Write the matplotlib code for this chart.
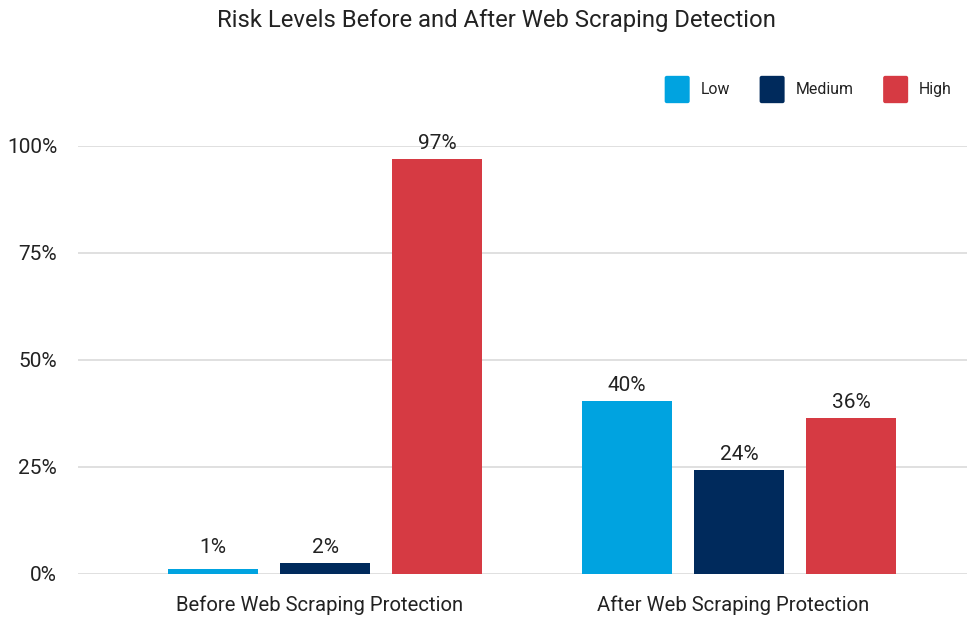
import matplotlib
matplotlib.use("Agg")
import matplotlib.pyplot as plt
import matplotlib.transforms as mtransforms
from matplotlib.patches import FancyBboxPatch
from matplotlib.legend_handler import HandlerPatch
import numpy as np

categories = ["Before Web Scraping Protection", "After Web Scraping Protection"]
series_names = ["Low", "Medium", "High"]
low = [1.0, 40.3]
medium = [2.4, 24.1]
high = [97.0, 36.4]
yticks = [0, 25, 50, 75, 100]
colors = ["#00A3E0", "#002A5C", "#D63A43"]

plt.rcParams['font.family'] = ['Roboto', 'DejaVu Sans']

W, H = 967, 617
fig = plt.figure(figsize=(W/100, H/100), dpi=100)
ax = fig.add_axes([78/W, (H-573.5)/H, 889/W, 427.5/H])

x = np.arange(len(categories))
bw = 0.217
off = 0.2705
min_label = 2.4
for i, (vals, c, name) in enumerate(zip([low, medium, high], colors, series_names)):
    pos = x + (i-1)*off
    ax.bar(pos, vals, width=bw, color=c, label=name, zorder=3)
    for p, v in zip(pos, vals):
        ax.annotate(f"{round(v)}%", (p, max(v, min_label)), xytext=(0, 4.5), textcoords='offset points',
                    ha='center', va='bottom', fontsize=15, color='#222222', annotation_clip=False)

ax.set_xlim(-0.597, 1.551)
ax.set_ylim(0, 100)
ax.set_yticks(yticks)
ax.set_yticklabels([f"{t}%" for t in yticks], fontsize=15, color='#222222')
ax.set_xticks(x)
ax.set_xticklabels(categories, fontsize=14.6, color='#222222')
ax.tick_params(axis='both', length=0)
ax.tick_params(axis='y', pad=15)
ax.tick_params(axis='x', pad=16)
shift = mtransforms.ScaledTranslation(-5.5/100, 0, fig.dpi_scale_trans)
for tick in ax.xaxis.get_major_ticks():
    tick.label1.set_transform(tick.label1.get_transform() + shift)
ax.grid(axis='y', color='#DDDDDD', linewidth=1.3, zorder=0)
for s in ax.spines.values():
    s.set_visible(False)

fig.text(496.5/W, 1-20/H, "Risk Levels Before and After Web Scraping Detection",
         ha='center', va='center', fontsize=17.2, color='#222222')


class RoundHandler(HandlerPatch):
    def create_artists(self, legend, orig_handle, xdescent, ydescent, width, height, fontsize, trans):
        p = FancyBboxPatch((-xdescent, -ydescent), width, height,
                           boxstyle="round,pad=0,rounding_size=1.5",
                           facecolor=orig_handle.get_facecolor(), edgecolor='none', transform=trans)
        return [p]


fs = 11.4
handles, labels = ax.get_legend_handles_labels()
leg = ax.legend([h.patches[0] for h in handles], labels,
                loc='center right', bbox_to_anchor=(952/W, 1-89.5/H), bbox_transform=fig.transFigure,
                ncol=3, frameon=False, fontsize=fs, handlelength=1.58, handleheight=2.28,
                handletextpad=0.7, columnspacing=1.86, borderaxespad=0, borderpad=0,
                handler_map={matplotlib.patches.Rectangle: RoundHandler()})
for t in leg.get_texts():
    t.set_color('#222222')

fig.savefig("out.png", dpi=100)
